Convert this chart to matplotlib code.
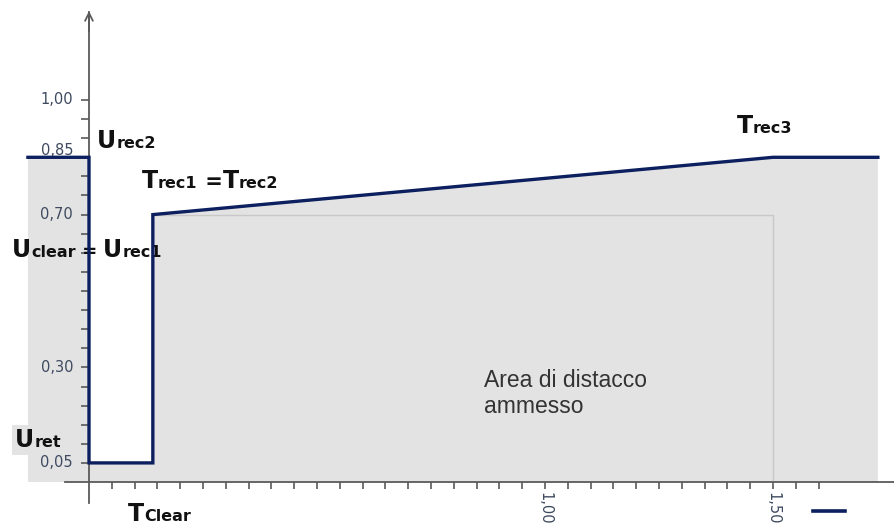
import matplotlib
matplotlib.use("Agg")
import matplotlib.pyplot as plt
from matplotlib.lines import Line2D
import numpy as np

# curve values (time in s, voltage in p.u.)
T_CLEAR = 0.14
T_REC3 = 1.5
CURVE_T = [-0.134, 0.0, 0.0, T_CLEAR, T_CLEAR, T_REC3, 1.73]
CURVE_U = [0.85, 0.85, 0.05, 0.05, 0.70, 0.85, 0.85]

# thin reference lines of the 0,70 box
REF_T = [T_CLEAR, T_REC3, T_REC3]
REF_U = [0.70, 0.70, 0.0]

Y_TICKS = np.arange(0.05, 1.0001, 0.05)
X_TICKS = np.arange(0.05, 1.6001, 0.05)
Y_LABELS = [(1.00, "1,00"), (0.85, "0,85"), (0.70, "0,70"), (0.30, "0,30"), (0.05, "0,05")]
X_LABELS = [(1.00, "1,00"), (1.50, "1,50")]

NAVY = "#0c1f5e"
GRAY_FILL = "#e3e3e3"
AXIS = "#5a5a5a"
BIG, SMALL = 17, 11.5


def label(ax, x, y, parts, **kw):
    """Chain of bold texts sharing one baseline, each (string, size)."""
    prev = None
    for s, size in parts:
        opts = dict(fontsize=size, fontweight="bold", color="#111111",
                    va="baseline", ha="left", zorder=2)
        opts.update(kw)
        if prev is None:
            prev = ax.text(x, y, s, **opts)
        else:
            opts.pop("bbox", None)
            prev = ax.annotate(s, xy=(1, y), xycoords=(prev, "data"), **opts)
    return prev


fig = plt.figure(figsize=(8.94, 5.27), dpi=100)
ax = fig.add_axes([0, 0, 1, 1])
ax.set_xlim(-89 / 456, 805 / 456)
ax.set_ylim(-45 / 382, 482 / 382)

# allowed disconnection area
poly_t = CURVE_T + [CURVE_T[-1], CURVE_T[0]]
poly_u = CURVE_U + [0.0, 0.0]
ax.fill(poly_t, poly_u, color=GRAY_FILL, lw=0, zorder=1)
ax.plot(REF_T, REF_U, color="#c8c8c8", lw=1, zorder=1.6)
ax.plot(CURVE_T, CURVE_U, color=NAVY, lw=2.4, zorder=3, solid_joinstyle="miter")

# axes through origin
for side in ["top", "right"]:
    ax.spines[side].set_visible(False)
ax.spines["left"].set_position(("data", 0))
ax.spines["bottom"].set_position(("data", 0))
ax.spines["left"].set_bounds(-0.055, 1.23)
ax.spines["bottom"].set_bounds(-0.053, 1.77)
for side in ["left", "bottom"]:
    ax.spines[side].set_color(AXIS)
    ax.spines[side].set_linewidth(1.3)
ax.annotate("", xy=(0, 1.233), xytext=(0, 1.18),
            arrowprops=dict(arrowstyle="->", color=AXIS, lw=1.3,
                            mutation_scale=14, shrinkA=0, shrinkB=0))

ax.set_yticks(Y_TICKS)
ax.set_xticks(X_TICKS)
ax.tick_params(axis="y", direction="out", length=6, width=1.2, color=AXIS,
               labelleft=False)
ax.tick_params(axis="x", direction="out", length=5, width=1.2, color=AXIS,
               labelbottom=False)

tick_color = "#3e4a60"
for v, s in Y_LABELS:
    dy = 5 if s == "0,85" else 0
    ax.annotate(s, xy=(0, v), xytext=(-11.5, dy), textcoords="offset points",
                ha="right", va="center", fontsize=10.5, color=tick_color, zorder=2)
for v, s in X_LABELS:
    ax.annotate(s, xy=(v, 0), xytext=(0, -7), textcoords="offset points",
                ha="center", va="top", rotation=270, fontsize=10.5,
                color=tick_color, zorder=2)

# curve annotations
label(ax, 0.018, 0.874, [("U", BIG), ("rec2", SMALL)])
label(ax, 0.116, 0.770, [("T", BIG), ("rec1", SMALL), (" =", 15), ("T", BIG), ("rec2", SMALL)])
label(ax, 1.421, 0.914, [("T", BIG), ("rec3", SMALL)])
label(ax, -0.169, 0.589, [("U", BIG), ("clear", SMALL), (" = ", 13), ("U", BIG), ("rec1", SMALL)])
label(ax, -0.162, 0.092, [("U", BIG), ("ret", SMALL)],
      bbox=dict(facecolor=GRAY_FILL, edgecolor="none", pad=2))
label(ax, 0.086, -0.102, [("T", BIG), ("Clear", SMALL)])

# va="baseline" on a two-line text aligns the last line
ax.text(0.866, 0.181, "Area di distacco\nammesso", fontsize=16.5,
        family="Liberation Sans", color="#333333", va="baseline", ha="left",
        linespacing=1.15, zorder=2)

ax.legend(handles=[Line2D([], [], color=NAVY, lw=2.6)], labels=[""],
          loc="center left", bbox_to_anchor=(813 / 894, 1 - 512 / 527),
          frameon=False, borderpad=0, borderaxespad=0, handlelength=2.3,
          handletextpad=0)

fig.savefig("out.png", dpi=100)
